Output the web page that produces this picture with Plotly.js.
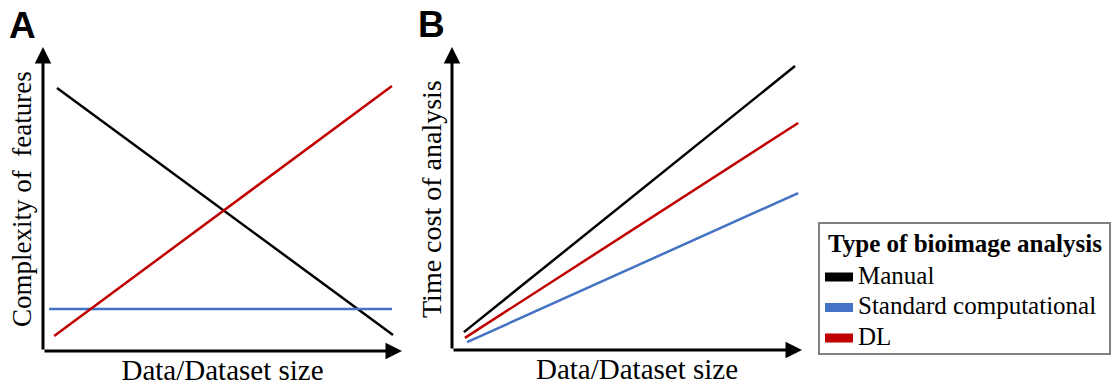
<!DOCTYPE html>
<html>
<head>
<meta charset="utf-8">
<script src="https://cdn.plot.ly/plotly-3.0.1.min.js"></script>
<style>html,body{margin:0;padding:0;background:#fff;}#chart{width:1116px;height:387px;}</style>
</head>
<body>
<div id="chart"></div>
<script>
// ---- Data (abstract units) ----
var seriesNames = ["Manual", "Standard computational", "DL"];
var seriesColors = ["#000000", "#4472C4", "#C00000"];

// Panel A: complexity of features vs data size
var aManualX = [0.39, 9.75];
var aManualY = [8.65, 0.53];
var aStdX = [0.17, 9.72];
var aStdY = [1.38, 1.38];
var aDLX = [0.31, 9.72];
var aDLY = [0.49, 8.72];

// Panel B: time cost of analysis vs data size
var bManualX = [0.34, 9.8];
var bManualY = [0.59, 9.37];
var bStdX = [0.43, 9.89];
var bStdY = [0.26, 5.18];
var bDLX = [0.37, 9.89];
var bDLY = [0.40, 7.49];

var xTitle = "Data/Dataset size";
var aYTitle = "Complexity of&nbsp; features";
var bYTitle = "Time cost of analysis";
var legendTitle = "Type of bioimage analysis";
var panelLabels = ["A", "B"];

var W = 1116, H = 387;
function px(x){ return x / W; }
function py(y){ return 1 - y / H; }

var serif = "Liberation Serif";
var LW = 2.5;

function line(x, y, i, xa, ya){
  return {x: x, y: y, mode: "lines", type: "scatter", xaxis: xa, yaxis: ya, name: seriesNames[i],
    line: {color: seriesColors[i], width: LW}, showlegend: false, hoverinfo: "skip"};
}

var traces = [
  line(aManualX, aManualY, 0, "x", "y"),
  line(aStdX, aStdY, 1, "x", "y"),
  line(aDLX, aDLY, 2, "x", "y"),
  line(bManualX, bManualY, 0, "x2", "y2"),
  line(bStdX, bStdY, 1, "x2", "y2"),
  line(bDLX, bDLY, 2, "x2", "y2")
];

function hiddenAxis(domain, range, title, standoff, size){
  return {domain: domain, range: range, showline: false, showgrid: false, zeroline: false,
    showticklabels: false, ticks: "", fixedrange: true,
    title: {text: title, font: {family: serif, size: size, color: "#000"}, standoff: standoff}};
}

function arrow(xref, yref, x, y, ax, ay){
  return {xref: xref, yref: yref, axref: xref, ayref: yref, x: x, y: y, ax: ax, ay: ay,
    text: "", showarrow: true, arrowhead: 2, arrowsize: 1.1, arrowwidth: 3, arrowcolor: "#000", standoff: 0};
}

function paperText(text, x, y, size, opts){
  var a = {xref: "paper", yref: "paper", x: px(x), y: py(y), text: text, showarrow: false,
    xanchor: "center", yanchor: "middle", font: {family: serif, size: size, color: "#000"}};
  return Object.assign(a, opts || {});
}

var annotations = [
  arrow("x", "y", 10, 0, 0, 0),
  arrow("x", "y", 0, 10, 0, 0),
  arrow("x2", "y2", 10, 0, 0, 0),
  arrow("x2", "y2", 0, 10, 0, 0),
  paperText("<b>" + panelLabels[0] + "</b>", 7, 3, 37,
    {xanchor: "left", yanchor: "top", font: {family: "Liberation Sans", size: 37, color: "#000"}}),
  paperText("<b>" + panelLabels[1] + "</b>", 416, 2, 37,
    {xanchor: "left", yanchor: "top", font: {family: "Liberation Sans", size: 37, color: "#000"}}),
  paperText(aYTitle, 22, 199, 27, {textangle: -90}),
  paperText(bYTitle, 431, 199, 28, {textangle: -90}),
  // legend
  paperText("<b>" + legendTitle + "</b>", 826, 243, 25, {xanchor: "left"})
];

var shapes = [
  {type: "rect", xref: "paper", yref: "paper", x0: px(819), x1: px(1110), y0: py(223), y1: py(354),
    line: {color: "#808080", width: 2}, fillcolor: "#fff", layer: "below"}
];

var itemY = [277, 307.5, 338];
for (var i = 0; i < seriesNames.length; i++) {
  shapes.push({type: "rect", xref: "paper", yref: "paper", x0: px(825), x1: px(853),
    y0: py(itemY[i] - 4.5), y1: py(itemY[i] + 4.5), line: {width: 0}, fillcolor: seriesColors[i]});
  annotations.push(paperText(seriesNames[i], 856, itemY[i] - 2, 25, {xanchor: "left"}));
}

var layout = {
  width: W, height: H,
  margin: {l: 0, r: 0, t: 0, b: 0},
  font: {family: serif, size: 25, color: "#000"},
  paper_bgcolor: "#fff", plot_bgcolor: "rgba(0,0,0,0)",
  showlegend: false,
  xaxis: hiddenAxis([px(43), px(402)], [0, 10], xTitle, 8, 29),
  yaxis: hiddenAxis([py(351), py(47)], [0, 10], "", 0, 27),
  xaxis2: Object.assign(hiddenAxis([px(452), px(822)], [0, 10 * 370 / 350], xTitle, 8, 29), {anchor: "y2"}),
  yaxis2: Object.assign(hiddenAxis([py(350), py(47)], [0, 10], "", 0, 28), {anchor: "x2"}),
  annotations: annotations,
  shapes: shapes
};

Plotly.newPlot("chart", traces, layout, {displayModeBar: false, staticPlot: true});
</script>
</body>
</html>
